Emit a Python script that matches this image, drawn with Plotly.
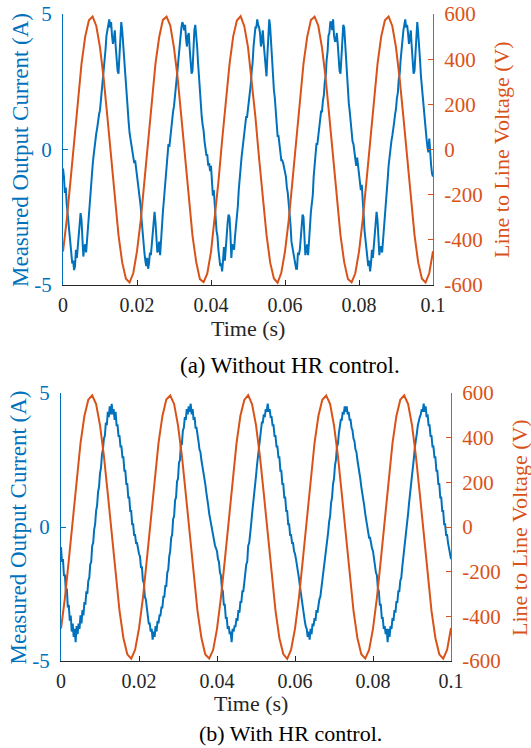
import plotly.graph_objects as go

# ---------------- data ----------------
DT_I = 0.00025   # current sample step (s)
DT_V = 0.001     # voltage sample step (s)

# (a) Without HR control: measured output current (A), 5 cycles
current_a = [
    # cycle 1
    -0.7, -1.0, -1.6, -1.4, -2.0, -2.4, -2.9, -3.3, -3.6, -3.9,
    -4.2, -4.1, -4.45, -4.3, -3.7, -4.0, -3.6, -3.2, -2.8, -2.35,
    -2.6, -3.2, -3.95, -3.6, -3.5, -3.8, -3.3, -2.85, -2.4, -2.0,
    -1.6, -1.1, -0.6, -0.25, 0.1, 0.2, 0.6, 0.8, 1.1, 1.3,
    1.45, 1.8, 2.1, 2.5, 2.8, 3.3, 3.7, 4.2, 4.4, 4.6,
    4.8, 4.5, 4.7, 4.2, 3.9, 4.1, 4.4, 3.8, 3.3, 2.9,
    2.8, 3.6, 4.3, 4.7, 4.4, 3.9, 3.3, 2.7, 2.2, 1.8,
    1.3, 1.0, 0.6, 0.4, 0.1, -0.1, -0.3, -0.5, -0.4, -0.7,
    # cycle 2
    -0.8, -1.2, -1.5, -1.9, -2.1, -2.6, -3.1, -3.4, -3.8, -4.1,
    -4.3, -4.0, -4.4, -4.2, -3.8, -3.9, -3.4, -3.0, -2.5, -2.3,
    -2.7, -3.3, -3.8, -3.7, -3.4, -3.9, -3.2, -2.7, -2.3, -1.9,
    -1.5, -0.9, -0.5, -0.1, 0.2, 0.1, 0.5, 0.9, 1.0, 1.4,
    1.6, 1.9, 2.3, 2.6, 3.0, 3.4, 3.9, 4.3, 4.5, 4.7,
    4.6, 4.4, 4.6, 4.1, 3.8, 4.2, 4.3, 3.7, 3.2, 2.8,
    2.9, 3.7, 4.4, 4.6, 4.3, 3.8, 3.2, 2.6, 2.1, 1.7,
    1.2, 0.9, 0.7, 0.3, 0.0, -0.2, -0.2, -0.6, -0.5, -0.8,
    # cycle 3
    -0.6, -1.1, -1.7, -1.5, -2.2, -2.5, -3.0, -3.2, -3.7, -4.0,
    -4.3, -4.2, -4.5, -4.1, -3.6, -4.1, -3.5, -3.1, -2.7, -2.4,
    -2.5, -3.1, -4.0, -3.5, -3.6, -3.7, -3.2, -2.9, -2.5, -2.1,
    -1.5, -1.2, -0.7, -0.3, 0.0, 0.3, 0.5, 0.8, 1.2, 1.2,
    1.5, 1.7, 2.2, 2.4, 2.9, 3.2, 3.8, 4.1, 4.5, 4.5,
    4.8, 4.6, 4.5, 4.3, 3.8, 4.0, 4.4, 3.9, 3.4, 3.0,
    2.7, 3.5, 4.2, 4.8, 4.5, 3.8, 3.4, 2.8, 2.2, 1.9,
    1.3, 1.1, 0.5, 0.5, 0.0, -0.1, -0.4, -0.4, -0.5, -0.7,
    # cycle 4
    -0.9, -1.0, -1.4, -1.6, -2.0, -2.3, -2.8, -3.4, -3.6, -3.8,
    -4.1, -4.2, -4.4, -4.4, -3.8, -3.9, -3.7, -3.3, -2.9, -2.4,
    -2.5, -3.2, -3.9, -3.7, -3.5, -3.9, -3.3, -2.8, -2.3, -2.0,
    -1.7, -1.0, -0.6, -0.3, 0.2, 0.2, 0.6, 0.7, 1.1, 1.4,
    1.4, 1.8, 2.0, 2.5, 2.7, 3.3, 3.6, 4.2, 4.3, 4.7,
    4.7, 4.4, 4.8, 4.2, 4.0, 4.0, 4.3, 3.9, 3.2, 2.9,
    2.8, 3.5, 4.4, 4.6, 4.5, 3.9, 3.2, 2.8, 2.3, 1.7,
    1.4, 0.9, 0.6, 0.3, 0.2, -0.1, -0.3, -0.6, -0.3, -0.6,
    # cycle 5
    -0.7, -1.1, -1.5, -1.3, -2.1, -2.4, -3.0, -3.3, -3.5, -3.9,
    -4.3, -4.1, -4.5, -4.2, -3.7, -4.0, -3.5, -3.2, -2.7, -2.3,
    -2.6, -3.3, -3.9, -3.6, -3.6, -3.8, -3.4, -2.8, -2.4, -1.9,
    -1.6, -1.1, -0.6, -0.2, 0.0, 0.3, 0.5, 0.9, 1.0, 1.3,
    1.5, 1.9, 2.1, 2.6, 2.8, 3.3, 3.8, 4.2, 4.4, 4.6,
    4.8, 4.5, 4.6, 4.3, 3.9, 4.1, 4.4, 3.8, 3.3, 2.8,
    2.9, 3.6, 4.3, 4.7, 4.3, 3.9, 3.3, 2.7, 2.3, 1.8,
    1.3, 1.0, 0.6, 0.4, 0.1, -0.1, 0.4, -0.4, -0.6, -0.9,
    -1.0,
]

# (b) With HR control: measured output current (A), 5 cycles
current_b = [
    # cycle 1
    -0.75, -1.3, -1.2, -1.8, -1.8, -2.4, -2.3, -3.0, -2.9, -3.5,
    -3.3, -3.9, -3.6, -4.1, -3.8, -4.3, -3.7, -4.0, -3.6, -3.8,
    -3.3, -3.6, -3.1, -3.3, -2.8, -2.9, -2.4, -2.5, -2.0, -1.9,
    -1.4, -1.3, -0.7, -0.6, -0.1, 0.1, 0.6, 0.8, 1.3, 1.5,
    2.0, 2.2, 2.7, 2.9, 3.3, 3.4, 3.9, 3.8, 4.3, 4.1,
    4.5, 4.2, 4.6, 4.2, 4.4, 4.0, 4.3, 3.8, 3.8, 3.4,
    3.4, 3.0, 3.0, 2.6, 2.6, 2.1, 2.1, 1.6, 1.6, 1.1,
    1.1, 0.6, 0.6, 0.1, 0.1, -0.3, -0.3, -0.6, -0.6, -0.9,
    # cycle 2
    -1.0, -1.1, -1.5, -1.5, -2.0, -2.1, -2.6, -2.7, -3.1, -3.2,
    -3.6, -3.6, -3.9, -3.8, -4.2, -3.9, -4.1, -3.7, -3.9, -3.5,
    -3.6, -3.3, -3.3, -3.0, -3.0, -2.6, -2.6, -2.2, -2.2, -1.7,
    -1.6, -1.1, -0.9, -0.4, -0.3, 0.3, 0.4, 1.0, 1.1, 1.7,
    1.8, 2.4, 2.5, 3.1, 3.1, 3.6, 3.7, 4.1, 4.0, 4.4,
    4.2, 4.5, 4.3, 4.6, 4.2, 4.4, 4.0, 4.1, 3.7, 3.7,
    3.3, 3.2, 2.9, 2.8, 2.5, 2.3, 2.1, 1.8, 1.6, 1.3,
    1.1, 0.8, 0.5, 0.3, 0.1, -0.2, -0.3, -0.5, -0.7, -0.8,
    # cycle 3
    -0.9, -1.2, -1.3, -1.7, -1.8, -2.3, -2.4, -2.9, -2.9, -3.4,
    -3.4, -3.8, -3.7, -4.0, -3.9, -4.3, -3.8, -3.9, -3.7, -3.7,
    -3.4, -3.5, -3.1, -3.2, -2.8, -2.8, -2.4, -2.4, -2.0, -1.9,
    -1.4, -1.3, -0.7, -0.6, -0.1, 0.1, 0.5, 0.8, 1.2, 1.5,
    1.9, 2.3, 2.6, 2.9, 3.3, 3.4, 3.9, 3.9, 4.2, 4.1,
    4.4, 4.3, 4.6, 4.3, 4.4, 4.1, 4.1, 3.8, 3.8, 3.4,
    3.4, 3.0, 3.0, 2.6, 2.6, 2.1, 2.1, 1.6, 1.6, 1.1,
    1.1, 0.6, 0.6, 0.1, 0.1, -0.3, -0.3, -0.6, -0.6, -0.9,
    # cycle 4
    -1.0, -1.2, -1.4, -1.7, -1.9, -2.2, -2.5, -2.8, -3.0, -3.3,
    -3.5, -3.7, -3.8, -4.1, -3.9, -4.2, -3.8, -4.0, -3.6, -3.7,
    -3.4, -3.5, -3.1, -3.2, -2.9, -2.7, -2.6, -2.3, -2.2, -1.8,
    -1.6, -1.1, -0.9, -0.5, -0.2, 0.2, 0.4, 0.9, 1.1, 1.6,
    1.8, 2.3, 2.5, 3.0, 3.1, 3.5, 3.7, 4.0, 4.0, 4.3,
    4.2, 4.5, 4.3, 4.5, 4.2, 4.3, 4.0, 4.0, 3.7, 3.6,
    3.3, 3.2, 2.9, 2.8, 2.5, 2.3, 2.0, 1.8, 1.5, 1.3,
    1.0, 0.8, 0.5, 0.3, 0.0, -0.1, -0.4, -0.4, -0.7, -0.8,
    # cycle 5
    -0.9, -1.2, -1.3, -1.7, -1.8, -2.3, -2.4, -2.9, -2.9, -3.4,
    -3.4, -3.8, -3.7, -4.0, -3.8, -4.3, -3.8, -4.1, -3.7, -3.8,
    -3.4, -3.5, -3.1, -3.2, -2.8, -2.8, -2.4, -2.4, -2.0, -1.9,
    -1.5, -1.2, -0.8, -0.5, -0.2, 0.2, 0.5, 0.9, 1.2, 1.6,
    1.9, 2.3, 2.6, 3.0, 3.2, 3.5, 3.8, 4.0, 4.1, 4.2,
    4.4, 4.3, 4.6, 4.3, 4.5, 4.1, 4.2, 3.8, 3.8, 3.4,
    3.4, 3.0, 3.0, 2.6, 2.6, 2.1, 2.1, 1.6, 1.6, 1.1,
    1.1, 0.6, 0.6, 0.1, 0.1, -0.3, -0.3, -0.6, -0.8, -1.0,
    -1.2,
]

# Line-to-line voltage (V), sampled every 1 ms
voltage_a = [
    -452, -313, -143, 41, 221, 379, 500, 572, 589, 547,
    452, 313, 143, -41, -221, -379, -500, -572, -589, -547,
    -450, -315, -141, 43, 219, 381, 498, 574, 588, 549,
    450, 315, 141, -43, -219, -381, -498, -574, -587, -549,
    -453, -311, -144, 40, 222, 377, 501, 571, 590, 546,
    453, 311, 144, -40, -222, -377, -501, -571, -590, -546,
    -451, -314, -142, 42, 220, 380, 499, 573, 588, 548,
    451, 314, 142, -42, -220, -380, -499, -573, -588, -548,
    -452, -312, -143, 41, 221, 378, 500, 572, 589, 547,
    452, 312, 143, -41, -221, -378, -500, -572, -589, -547,
    -450,
]
voltage_b = [
    -455, -318, -148, 36, 216, 375, 497, 570, 590, 550,
    456, 318, 148, -36, -216, -375, -497, -570, -590, -550,
    -454, -319, -147, 37, 215, 376, 496, 571, 589, 551,
    455, 319, 147, -37, -215, -376, -496, -571, -589, -551,
    -456, -317, -149, 35, 217, 374, 498, 569, 590, 549,
    456, 317, 149, -35, -217, -374, -498, -569, -590, -549,
    -455, -318, -148, 36, 216, 375, 497, 570, 589, 550,
    455, 318, 148, -36, -216, -375, -497, -570, -589, -550,
    -455, -317, -148, 36, 216, 376, 497, 570, 590, 550,
    456, 317, 148, -36, -216, -376, -497, -570, -590, -550,
    -452,
]

time_ticks = [0, 0.02, 0.04, 0.06, 0.08, 0.1]
time_ticktext = ["0", "0.02", "0.04", "0.06", "0.08", "0.1"]
cur_ticks = [-5, 0, 5]
cur_ticktext = ["-5", "0", "5"]
volt_ticks = [-600, -400, -200, 0, 200, 400, 600]
volt_ticktext = ["-600", "-400", "-200", "0", "200", "400", "600"]

t_cur_a = [i * DT_I for i in range(len(current_a))]
t_cur_b = [i * DT_I for i in range(len(current_b))]
t_v_a = [i * DT_V for i in range(len(voltage_a))]
t_v_b = [i * DT_V for i in range(len(voltage_b))]

# ---------------- styling ----------------
W, H = 531, 748
BLUE = "#0072BD"
ORANGE = "#D95319"
GREY = "#262626"
FONT = "'Liberation Serif', 'Times New Roman', Times, serif"


def px_x(p):
    return p / W


def px_y(p):
    return 1 - p / H


fig = go.Figure()
fig.add_trace(go.Scatter(x=t_cur_a, y=current_a, xaxis="x", yaxis="y", mode="lines",
                         line=dict(color=BLUE, width=2), showlegend=False))
fig.add_trace(go.Scatter(x=t_v_a, y=voltage_a, xaxis="x", yaxis="y2", mode="lines",
                         line=dict(color=ORANGE, width=2), showlegend=False))
fig.add_trace(go.Scatter(x=t_cur_b, y=current_b, xaxis="x2", yaxis="y3", mode="lines",
                         line=dict(color=BLUE, width=2), showlegend=False))
fig.add_trace(go.Scatter(x=t_v_b, y=voltage_b, xaxis="x2", yaxis="y4", mode="lines",
                         line=dict(color=ORANGE, width=2), showlegend=False))


def xaxis_style(domain, anchor):
    return dict(domain=domain, anchor=anchor, range=[0, 0.1], tickvals=time_ticks,
                ticktext=time_ticktext, ticks="inside", ticklen=5, tickwidth=1,
                tickcolor=GREY, showline=True, linecolor=GREY, linewidth=1,
                showgrid=False, zeroline=False, ticklabelstandoff=2, automargin=False,
                tickfont=dict(family=FONT, size=20, color=GREY))


def yaxis_style(domain, anchor, rng, tv, tt, color, side, overlaying=None):
    d = dict(domain=domain, anchor=anchor, range=rng, tickvals=tv, ticktext=tt,
             ticks="inside", ticklen=5, tickwidth=1, tickcolor=color, showline=True,
             linecolor=color, linewidth=1, showgrid=False, zeroline=False, side=side,
             ticklabelstandoff=6, automargin=False,
             tickfont=dict(family=FONT, size=21, color=color))
    if overlaying:
        d["overlaying"] = overlaying
    return d


top_x = [px_x(63), px_x(433)]
top_y = [px_y(285), px_y(14)]
bot_x = [px_x(61), px_x(451)]
bot_y = [px_y(661), px_y(393)]

fig.update_layout(
    template="none",
    width=W, height=H, autosize=False,
    margin=dict(l=0, r=0, t=0, b=0, pad=0, autoexpand=False),
    paper_bgcolor="white", plot_bgcolor="white",
    showlegend=False,
    xaxis=xaxis_style(top_x, "y"),
    yaxis=yaxis_style(top_y, "x", [-5, 5], cur_ticks, cur_ticktext, BLUE, "left"),
    yaxis2=yaxis_style(top_y, "x", [-600, 600], volt_ticks, volt_ticktext, ORANGE, "right", "y"),
    xaxis2=xaxis_style(bot_x, "y3"),
    yaxis3=yaxis_style(bot_y, "x2", [-5, 5], cur_ticks, cur_ticktext, BLUE, "left"),
    yaxis4=yaxis_style(bot_y, "x2", [-600, 600], volt_ticks, volt_ticktext, ORANGE, "right", "y3"),
)


def note(text, x, y, color, size, angle=0, yanchor="middle"):
    fig.add_annotation(text=text, xref="paper", yref="paper", x=px_x(x), y=px_y(y),
                       xanchor="center", yanchor=yanchor, showarrow=False,
                       textangle=angle, font=dict(family=FONT, size=size, color=color))


note("Measured Output Current (A)", 20, 150, BLUE, 23, -90)
note("Line to Line Voltage (V)", 501, 150, ORANGE, 22, -90)
note("Time (s)", 248, 328, GREY, 22)
note("(a) Without HR control.", 290, 366, "black", 23)

note("Measured Output Current (A)", 17.5, 528, BLUE, 23, -90)
note("Line to Line Voltage (V)", 519, 528, ORANGE, 22, -90)
note("Time (s)", 251, 703, GREY, 22)
note("(b) With HR control.", 290, 748, "black", 22, yanchor="bottom")

# Pin the figure to the viewport's top-left corner (no page margin).
post = (
    "var de=document.documentElement, b=document.body;"
    "de.style.margin='0';de.style.padding='0';de.style.overflow='hidden';"
    "b.style.margin='0';b.style.padding='0';b.style.overflow='hidden';"
    "var d=document.getElementById('{plot_id}');"
    "d.style.position='fixed';d.style.left='0px';d.style.top='0px';"
)
fig.write_html("out.html", post_script=post, config={"displayModeBar": False})
